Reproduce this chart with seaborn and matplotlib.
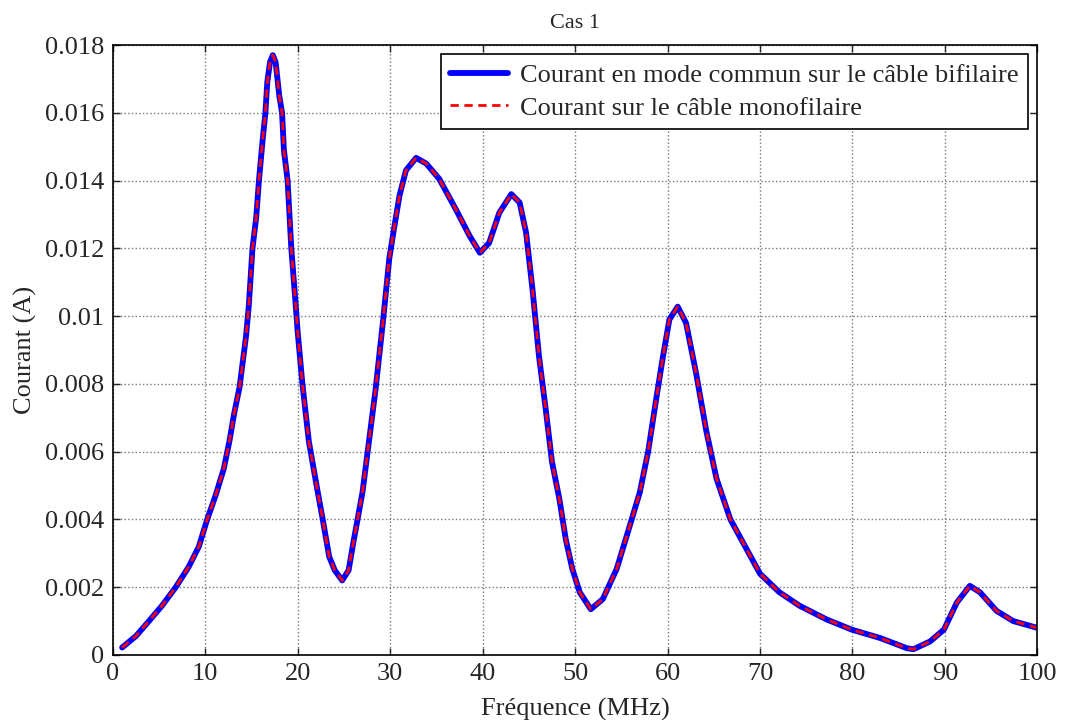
import numpy as np
import matplotlib
matplotlib.use("Agg")
import matplotlib.pyplot as plt
import seaborn as sns

# frequence (MHz) and courant (A)
freq = [1.0, 2.5, 3.9, 5.3, 6.8, 8.2, 9.3, 10.2, 11.1, 12.0, 12.6, 13.1, 13.7,
        14.4, 14.7, 15.1, 15.5, 15.8, 16.2, 16.5, 16.7, 17.0, 17.3, 17.6, 18.0,
        18.3, 18.5, 18.9, 19.3, 19.7, 20.0, 20.5, 21.2, 22.1, 22.7, 23.4, 24.0,
        24.8, 25.5, 26.0, 27.0, 27.7, 28.4, 29.2, 29.9, 30.4, 31.0, 31.7, 32.8,
        33.9, 35.3, 37.1, 38.6, 39.7, 40.7, 41.8, 43.1, 44.0, 44.7, 45.4, 46.1,
        46.8, 47.5, 48.3, 49.0, 49.7, 50.5, 51.7, 53.0, 54.5, 55.9, 57.0, 57.9,
        58.8, 59.5, 60.2, 61.1, 62.0, 63.1, 64.2, 65.3, 66.8, 68.6, 70.0, 72.1,
        74.3, 77.2, 79.9, 83.0, 85.9, 86.6, 88.4, 89.9, 91.3, 92.7, 93.8, 95.6,
        97.4, 100.0]
courant = [0.00022, 0.00056, 0.001, 0.00145, 0.002, 0.0026, 0.0032, 0.004,
           0.0047, 0.0055, 0.0063, 0.0071, 0.0079, 0.0094, 0.0103, 0.012, 0.0129,
           0.014, 0.0152, 0.016, 0.0169, 0.0175, 0.0177, 0.0175, 0.0165, 0.016,
           0.0149, 0.014, 0.012, 0.0106, 0.0095, 0.008, 0.0063, 0.0049, 0.004,
           0.0029, 0.0025, 0.0022, 0.0025, 0.0033, 0.0048, 0.0063, 0.0078, 0.0098,
           0.0117, 0.01256, 0.01355, 0.0143, 0.01467, 0.0145, 0.01405, 0.01315,
           0.01236, 0.01187, 0.01216, 0.01305, 0.0136, 0.01335, 0.01246, 0.01077,
           0.0088, 0.0073, 0.0057, 0.0046, 0.0034, 0.00254, 0.00185, 0.00135,
           0.00165, 0.00254, 0.0038, 0.0048, 0.006, 0.0076, 0.0088, 0.0099,
           0.01028, 0.0098, 0.0083, 0.0066, 0.0052, 0.004, 0.0031, 0.0024, 0.00185,
           0.00145, 0.00105, 0.00075, 0.0005, 0.0002, 0.00017, 0.0004, 0.00075,
           0.00155, 0.00204, 0.00185, 0.0013, 0.001, 0.0008]

label_bifil = "Courant en mode commun sur le câble bifilaire"
label_monofil = "Courant sur le câble monofilaire"
xticks = np.arange(0, 101, 10)
yticks = np.arange(0, 0.0181, 0.002)
ytick_labels = ["0", "0.002", "0.004", "0.006", "0.008", "0.01", "0.012",
                "0.014", "0.016", "0.018"]

sns.set_style("ticks")
plt.rcParams["font.family"] = ["Liberation Serif", "DejaVu Serif"]

fig = plt.figure(figsize=(10.65, 7.2), dpi=100)
ax = fig.add_axes([0.106, 0.0903, 0.868, 0.8472])

sns.lineplot(x=freq, y=courant, ax=ax, color="#0000ff", linewidth=4.2,
             label=label_bifil, sort=False, solid_joinstyle="round")
sns.lineplot(x=freq, y=courant, ax=ax, color="#ff0000", linewidth=2.0,
             linestyle=(0, (3, 2)), label=label_monofil, sort=False)

ax.set_xlim(0, 100)
ax.set_ylim(0, 0.018)
ax.set_xticks(xticks)
ax.set_yticks(yticks)
ax.set_yticklabels(ytick_labels)
ax.tick_params(direction="in", top=True, right=True, labelsize=19, length=5,
               width=1, pad=6)
ax.grid(True, linestyle=":", color="#777777", linewidth=1)
for sp in ax.spines.values():
    sp.set_visible(True)
    sp.set_color("black")
    sp.set_linewidth(1.2)

ax.set_xlabel("Fréquence (MHz)", fontsize=19, labelpad=9)
ax.set_ylabel("Courant (A)", fontsize=19, labelpad=6)
ax.set_title("Cas 1", fontsize=16, pad=12)

leg = ax.legend(loc="upper right", fontsize=19, frameon=True, fancybox=False,
                edgecolor="black", framealpha=1, borderaxespad=0.35,
                handlelength=2.2, handletextpad=0.45, borderpad=0.35,
                labelspacing=0.35)
leg.get_frame().set_linewidth(1.2)

fig.savefig("out.png", dpi=100)
